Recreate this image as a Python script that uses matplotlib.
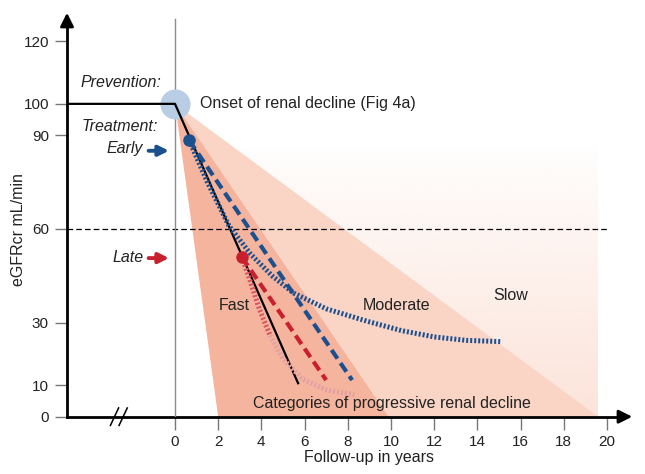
import numpy as np
import matplotlib
matplotlib.use('Agg')
import matplotlib.pyplot as plt
from matplotlib.patches import Polygon

plt.rcParams['font.family'] = 'Liberation Sans'

# axis ticks
years_ticks = [0, 2, 4, 6, 8, 10, 12, 14, 16, 18, 20]
egfr_ticks = [0, 10, 30, 60, 90, 100, 120]

# natural course (untreated)
course_t = [-5, 0, 5.7]
course_egfr = [100, 100, 10.7]

# categories of decline (wedges from onset)
fast_t = [0, 2.0, 9.9]
fast_egfr = [100, 0, 0]
moderate_t = [0, 9.9, 19.6]
moderate_egfr = [100, 0, 0]
slow_t = [0, 19.6, 19.6]
slow_egfr = [100, 100, 0]

# early treatment
early_start = (0.66, 88.3)
early_dashed_t = [0.66, 8.2]
early_dashed_egfr = [88.3, 11.7]
early_dotted_t = [0.66, 1.5, 2.5, 3.5, 4.5, 5.5, 7.0, 8.9, 10.5, 12.0, 13.5, 15.1]
early_dotted_egfr = [88.3, 75, 61, 52, 45, 39.5, 34.5, 30.5, 27.5, 25.5, 24.4, 24.0]

# late treatment
late_start = (3.1, 51.0)
late_dashed_t = [3.1, 7.0]
late_dashed_egfr = [51.0, 11.7]
late_dotted_t = [3.1, 3.5, 3.9, 4.4, 5.0, 5.9, 7.0, 8.3]
late_dotted_egfr = [51.0, 43, 34.5, 26, 18.5, 12, 8.6, 7.0]

ckd_threshold = 60

blue = '#1b4f8e'
red = '#c8202f'
fast_col = '#f5b49d'
mod_col = '#fad5c6'

fig = plt.figure(figsize=(6.45, 4.74), dpi=100)
ax = fig.add_axes([67 / 645, 57.3 / 474, 568 / 645, 406.7 / 474])

# slow wedge with fading gradient
yy = np.linspace(0, 100, 200)
alpha = np.clip(1 - yy / 88, 0, 1) ** 0.9
img = np.zeros((200, 2, 4))
img[:, :, 0] = 252 / 255
img[:, :, 1] = 228 / 255
img[:, :, 2] = 218 / 255
img[:, :, 3] = alpha[:, None]
slow_poly = Polygon(np.column_stack([slow_t, slow_egfr]), facecolor='none', edgecolor='none')
ax.add_patch(slow_poly)
im = ax.imshow(img, extent=(0, max(slow_t), 0, max(slow_egfr)), origin='lower',
               aspect='auto', zorder=0, interpolation='bilinear')
im.set_clip_path(slow_poly)

ax.fill(moderate_t, moderate_egfr, color=mod_col, lw=0, zorder=1)
ax.fill(fast_t, fast_egfr, color=fast_col, lw=0, zorder=2)

ax.plot([-5, 20.1], [ckd_threshold, ckd_threshold], color='k', lw=0.9,
        linestyle=(0, (4.5, 2.5)), zorder=3)
ax.plot([0, 0], [0, 127], color='#8c8c8c', lw=1, zorder=3)

ax.plot(course_t, course_egfr, color='k', lw=1.6, zorder=5)
ax.scatter([0], [100], s=470, color='#b9cde4', zorder=4, linewidths=0)

ax.plot(early_dotted_t, early_dotted_egfr, color=blue, lw=3.6, linestyle=(0, (0.4, 0.4)), zorder=6)
ax.plot(early_dashed_t, early_dashed_egfr, color=blue, lw=3, linestyle=(0, (2.5, 1.3)), zorder=6)
ax.plot(late_dotted_t[:4], late_dotted_egfr[:4], color='#d95562', lw=3.6, linestyle=(0, (0.4, 0.4)), zorder=6)
ax.plot(late_dotted_t[3:], late_dotted_egfr[3:], color='#e3a0a4', lw=3.6, linestyle=(0, (0.4, 0.4)), zorder=6)
ax.plot(late_dashed_t, late_dashed_egfr, color=red, lw=3, linestyle=(0, (2.5, 1.3)), zorder=6)
ax.plot(*early_start, 'o', color=blue, ms=8, zorder=7)
ax.plot(*late_start, 'o', color=red, ms=8, zorder=7)

# axes
ax.set_xlim(-5, 21.3)
ax.set_ylim(0, 130)
for s in ['top', 'right']:
    ax.spines[s].set_visible(False)
ax.spines['left'].set_linewidth(2)
ax.spines['bottom'].set_linewidth(2)
ax.spines['left'].set_bounds(0, 127)
ax.spines['bottom'].set_bounds(-5, 20.8)
ax.annotate('', xy=(21.3, 0), xytext=(20.5, 0),
            arrowprops=dict(arrowstyle='-|>', color='k', lw=2, mutation_scale=20), annotation_clip=False)
ax.annotate('', xy=(-5, 130), xytext=(-5, 125),
            arrowprops=dict(arrowstyle='-|>', color='k', lw=2, mutation_scale=20), annotation_clip=False)
ax.set_xticks(years_ticks)
ax.set_yticks(egfr_ticks)
ax.tick_params(length=9, width=1, color='#777777', labelsize=11, pad=4, labelcolor='#222222')

# axis break
for bt in [-2.8, -2.4]:
    ax.plot([bt - 0.19, bt + 0.19], [-2.8, 2.8], color='k', lw=1.1, clip_on=False, zorder=8)

ax.set_xlabel('Follow-up in years', fontsize=11.5, va='center', color='#222222')
ax.xaxis.set_label_coords(0.532, -0.1)
ax.set_ylabel('eGFRcr mL/min', fontsize=11.5, va='center', color='#222222')
ax.yaxis.set_label_coords(-0.085, 0.459)

fs = 11.5
tc = '#222222'
ax.text(-0.62, 106.7, 'Prevention:', ha='right', va='center', style='italic', fontsize=fs, color=tc)
ax.text(-0.77, 92.8, 'Treatment:', ha='right', va='center', style='italic', fontsize=fs, color=tc)
ax.text(-1.47, 85.7, 'Early', ha='right', va='center', style='italic', fontsize=fs, color=tc)
ax.text(-1.47, 51.0, 'Late', ha='right', va='center', style='italic', fontsize=fs, color=tc)
ax.annotate('', xy=(-0.15, 85), xytext=(-1.35, 85),
            arrowprops=dict(arrowstyle='-|>', color=blue, lw=2.8, mutation_scale=15))
ax.annotate('', xy=(-0.15, 50.7), xytext=(-1.35, 50.7),
            arrowprops=dict(arrowstyle='-|>', color=red, lw=2.8, mutation_scale=15))
ax.text(1.16, 100, 'Onset of renal decline (Fig 4a)', ha='left', va='center', fontsize=fs, color=tc, zorder=8)
ax.text(2.73, 35.7, 'Fast', ha='center', va='center', fontsize=fs, color=tc, zorder=8)
ax.text(10.26, 35.4, 'Moderate', ha='center', va='center', fontsize=fs, color=tc, zorder=8)
ax.text(15.53, 38.9, 'Slow', ha='center', va='center', fontsize=fs, color=tc, zorder=8)
ax.text(3.63, 4.3, 'Categories of progressive renal decline', ha='left', va='center', fontsize=fs, color=tc, zorder=8)

fig.savefig('out.png', dpi=100)
